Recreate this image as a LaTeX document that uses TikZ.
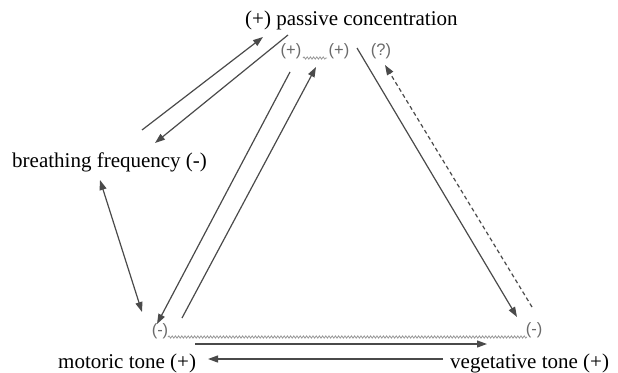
\documentclass[tikz,border=0pt]{standalone}
\usepackage{fontspec}
\setmainfont{Liberation Serif}
\newfontfamily\serifmain{Liberation Serif}
\newfontfamily\labelfont{Liberation Sans}
\usetikzlibrary{arrows.meta,decorations.pathmorphing}
\definecolor{linegray}{HTML}{4A4A4A}
\definecolor{labgray}{HTML}{6A6A6A}
\definecolor{wavegray}{HTML}{999999}
\tikzset{
  bigtext/.style={inner sep=0pt, font=\serifmain\fontsize{21}{25}\selectfont, text=black},
  smalllab/.style={inner sep=0pt, font=\labelfont\fontsize{16.5}{20}\selectfont, text=labgray},
  conn/.style={draw=linegray, line width=1.2pt, -{Triangle[length=10pt,width=7pt]}},
  biconn/.style={draw=linegray, line width=1.2pt, {Triangle[length=10pt,width=7pt]}-{Triangle[length=10pt,width=7pt]}},
  dconn/.style={conn, dash pattern=on 4pt off 3pt},
  wavy/.style={draw=wavegray, line width=0.8pt, decorate, decoration={snake, amplitude=1.1pt, segment length=3.2pt}}
}
\begin{document}
\begin{tikzpicture}[x=1pt,y=-1pt]
\useasboundingbox (0,0) rectangle (618,372);
% main texts
\node[bigtext, anchor=base west] (pc) at (245,25) {(+) passive concentration};
\node[bigtext, anchor=base west] (bf) at (12,167) {breathing frequency (-)};
\node[bigtext, anchor=base west] (mt) at (58,368) {motoric tone (+)};
\node[bigtext, anchor=base west] (vt) at (450,368) {vegetative tone (+)};
% small labels
\node[smalllab] (p1) at (291,51) {(+)};
\node[smalllab] (p2) at (339,51) {(+)};
\node[smalllab] (q) at (381,51) {(?)};
\node[smalllab] (m1) at (160,331) {(-)};
\node[smalllab] (m2) at (534,330) {(-)};
% wavy connections
\coordinate (w1a) at (303,58);
\coordinate (w1b) at (327,58);
\coordinate (w2a) at (168,337);
\coordinate (w2b) at (527,337);
\draw[wavy] (w1a) -- (w1b);
\draw[wavy] (w2a) -- (w2b);
% connector end points
\coordinate (a1s) at (142,130); \coordinate (a1e) at (263,37);
\coordinate (a2s) at (288,35);  \coordinate (a2e) at (155,143);
\coordinate (a3s) at (100,180); \coordinate (a3e) at (142,312);
\coordinate (a4s) at (290,72);  \coordinate (a4e) at (157,324);
\coordinate (a5s) at (182,318); \coordinate (a5e) at (316,67);
\coordinate (a6s) at (357,48);  \coordinate (a6e) at (517,317);
\coordinate (a7s) at (532,307); \coordinate (a7e) at (385,65);
\coordinate (a8s) at (195,344); \coordinate (a8e) at (487,344);
\coordinate (a9s) at (443,359); \coordinate (a9e) at (208,359);
% connectors
\draw[conn] (a1s) -- (a1e);
\draw[conn] (a2s) -- (a2e);
\draw[biconn] (a3s) -- (a3e);
\draw[conn] (a4s) -- (a4e);
\draw[conn] (a5s) -- (a5e);
\draw[conn] (a6s) -- (a6e);
\draw[dconn] (a7s) -- (a7e);
\draw[conn] (a8s) -- (a8e);
\draw[conn] (a9s) -- (a9e);
\end{tikzpicture}
\end{document}
